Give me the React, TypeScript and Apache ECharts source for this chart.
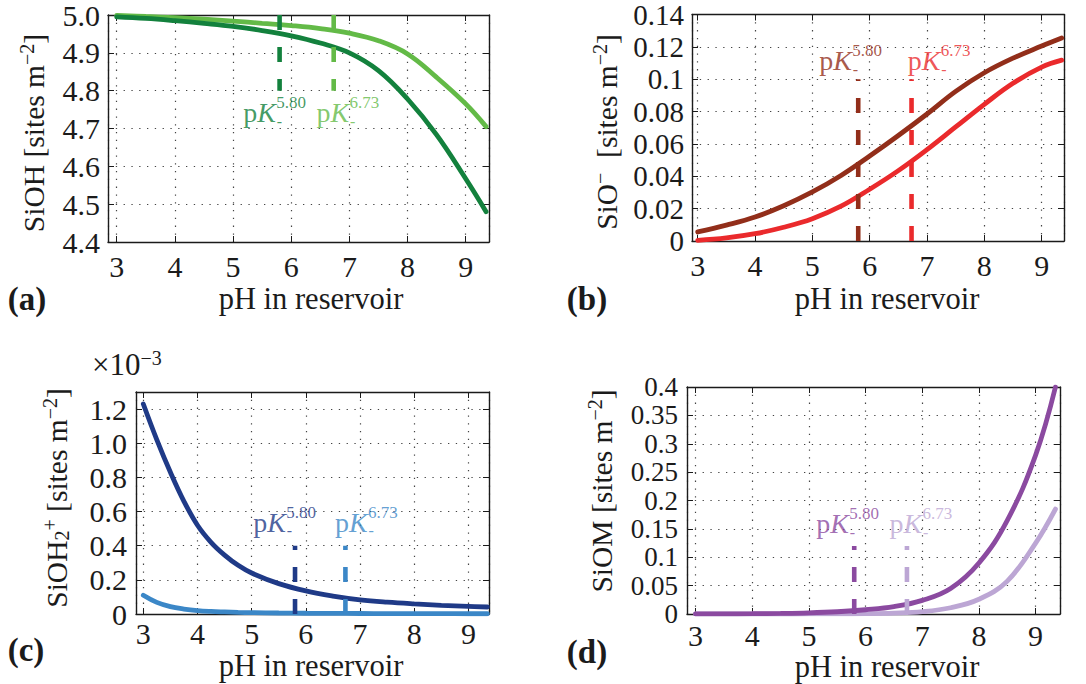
import React, { useEffect, useRef } from "react";
import * as echarts from "echarts";

// ---------- data ----------
// Two surface-complexation constants compared in every panel
const PK_LOW = 5.8;
const PK_HIGH = 6.73;
const PK_LOW_TXT = "5.80";
const PK_HIGH_TXT = "6.73";

// pH sampling shared by panels (a), (b) and (d)
const phGrid = [3, 3.5, 4, 4.5, 5, 5.5, 6, 6.5, 7, 7.5, 8, 8.5, 9, 9.35];

// (a) SiOH
const siohLow = [4.995, 4.991, 4.985, 4.978, 4.97, 4.959, 4.945, 4.926, 4.9, 4.853, 4.778, 4.683, 4.567, 4.48];
const siohHigh = [4.999, 4.996, 4.993, 4.989, 4.984, 4.978, 4.972, 4.964, 4.952, 4.932, 4.897, 4.835, 4.765, 4.705];

// (b) SiO-
const sioLow = [0.0056, 0.0098, 0.0148, 0.0218, 0.0303, 0.0405, 0.0525, 0.0652, 0.0785, 0.0925, 0.104, 0.113, 0.1205, 0.1255];
const sioHigh = [0.0004, 0.0019, 0.0045, 0.0085, 0.0138, 0.0215, 0.032, 0.0435, 0.0565, 0.0705, 0.0845, 0.0975, 0.1075, 0.1118];

// (c) SiOH2+ (in units of 1e-3 sites m^-2), finer sampling where it drops fast
const phC = [3, 3.25, 3.5, 3.75, 4, 4.25, 4.5, 4.75, 5, 5.5, 6, 6.5, 7, 7.5, 8, 8.5, 9, 9.35];
const sioh2Low = [1.23, 1.02, 0.83, 0.66, 0.52, 0.42, 0.345, 0.285, 0.24, 0.178, 0.135, 0.105, 0.083, 0.069, 0.059, 0.051, 0.045, 0.041];
const sioh2High = [0.11, 0.068, 0.043, 0.029, 0.02, 0.015, 0.012, 0.0095, 0.008, 0.006, 0.0045, 0.0035, 0.0028, 0.0024, 0.002, 0.0018, 0.0016, 0.0015];

// (d) SiOM
const siomLow = [0.0001, 0.0002, 0.0005, 0.001, 0.002, 0.004, 0.0075, 0.013, 0.024, 0.045, 0.09, 0.165, 0.28, 0.4];
const siomHigh = [0, 0, 0, 0, 0.0001, 0.0003, 0.0006, 0.0015, 0.004, 0.011, 0.026, 0.058, 0.125, 0.185];

// vertical marker extents [from, to] and label baselines [pH, value] per panel
const markA = [5.0, 4.8];
const markB = [0, 0.1];
const markC = [0, 0.4];
const markD = [0, 0.12];
const labelA = [[5.176, 4.716], [6.435, 4.716]];
const labelB = [[5.122, 0.1056], [6.663, 0.1056]];
const labelC = [[5.031, 0.481], [6.538, 0.481]];
const labelD = [[5.129, 0.142], [6.424, 0.142]];

// ---------- styling ----------
const FONT = "Liberation Serif";
const INK = "#1b1b1b";
const GRID_DOT = [1.3, 6.5];
const DASH = [15, 17];

type PanelSpec = {
  box: { left: number; top: number; width: number; height: number };
  xRange: [number, number];
  yRange: [number, number];
  yStep: number;
  yFmt: (v: number) => string;
  yFont: number;
  ph: number[];
  low: number[];
  high: number[];
  colors: [string, string];
  mark: number[];
  labels: number[][];
  yLabelMargin: number;
  xLabelMargin: number;
};

const panels: PanelSpec[] = [
  {
    box: { left: 108, top: 14, width: 381, height: 228 },
    xRange: [2.85, 9.4],
    yRange: [4.4, 5.0],
    yStep: 0.1,
    yFmt: (v) => v.toFixed(1),
    yFont: 30,
    ph: phGrid, low: siohLow, high: siohHigh,
    colors: ["#13813d", "#63ba47"],
    mark: markA, labels: labelA,
    yLabelMargin: 8, xLabelMargin: 12,
  },
  {
    box: { left: 692, top: 14, width: 372, height: 227 },
    xRange: [2.9, 9.39],
    yRange: [0, 0.14],
    yStep: 0.02,
    yFmt: (v) => (Math.abs(v) < 1e-9 ? "0" : String(+v.toFixed(2))),
    yFont: 29,
    ph: phGrid, low: sioLow, high: sioHigh,
    colors: ["#922e1a", "#ea2a2c"],
    mark: markB, labels: labelB,
    yLabelMargin: 8, xLabelMargin: 12,
  },
  {
    box: { left: 136, top: 392, width: 353, height: 222 },
    xRange: [2.865, 9.38],
    yRange: [0, 1.3],
    yStep: 0.2,
    yFmt: (v) => (Math.abs(v - 1.3) < 1e-6 ? "" : Math.abs(v) < 1e-9 ? "0" : v.toFixed(1)),
    yFont: 30,
    ph: phC, low: sioh2Low, high: sioh2High,
    colors: ["#1f3a87", "#3b87c7"],
    mark: markC, labels: labelC,
    yLabelMargin: 9, xLabelMargin: 7,
  },
  {
    box: { left: 687, top: 387, width: 373, height: 227 },
    xRange: [2.85, 9.43],
    yRange: [0, 0.4],
    yStep: 0.05,
    yFmt: (v) => (Math.abs(v) < 1e-9 ? "0" : String(+v.toFixed(2))),
    yFont: 27,
    ph: phGrid, low: siomLow, high: siomHigh,
    colors: ["#8b4aa0", "#bca6d4"],
    mark: markD, labels: labelD,
    yLabelMargin: 9, xLabelMargin: 9,
  },
];

const xFmt = (v: number) => (Math.abs(v - Math.round(v)) < 1e-6 ? String(Math.round(v)) : "");

function buildOption(): echarts.EChartsOption {
  const grid: any[] = [];
  const xAxis: any[] = [];
  const yAxis: any[] = [];
  const series: any[] = [];

  panels.forEach((p, i) => {
    grid.push({ ...p.box, containLabel: false });
    const axisLine = { show: true, onZero: false, lineStyle: { color: INK, width: 1.4 } };
    const axisTick = { show: true, inside: true, length: 6, lineStyle: { color: INK, width: 1 } };
    const label = { fontFamily: FONT, color: INK, lineHeight: 24, hideOverlap: false };

    xAxis.push({
      type: "value", gridIndex: i, position: "bottom",
      min: p.xRange[0], max: p.xRange[1], minInterval: 1, maxInterval: 1,
      axisLine, axisTick,
      axisLabel: { ...label, fontSize: 30, margin: p.xLabelMargin, formatter: xFmt },
      splitLine: { show: true, lineStyle: { type: GRID_DOT, color: "#444", width: 1.2 } },
    });
    xAxis.push({
      type: "value", gridIndex: i, position: "top",
      min: p.xRange[0], max: p.xRange[1], minInterval: 1, maxInterval: 1,
      axisLine, axisTick, axisLabel: { show: false }, splitLine: { show: false },
    });
    yAxis.push({
      type: "value", gridIndex: i, position: "left",
      min: p.yRange[0], max: p.yRange[1], interval: p.yStep,
      axisLine, axisTick,
      axisLabel: {
        ...label, fontSize: p.yFont, margin: p.yLabelMargin, formatter: p.yFmt,
        showMinLabel: true, showMaxLabel: true,
      },
      splitLine: { show: true, lineStyle: { type: GRID_DOT, color: "#444", width: 1.2 } },
    });
    yAxis.push({
      type: "value", gridIndex: i, position: "right",
      min: p.yRange[0], max: p.yRange[1], interval: p.yStep,
      axisLine, axisTick, axisLabel: { show: false }, splitLine: { show: false },
    });

    const xi = 2 * i;
    const yi = 2 * i;
    // light curve (higher pK) first, dark curve on top
    [
      { ys: p.high, color: p.colors[1] },
      { ys: p.low, color: p.colors[0] },
    ].forEach((c) => {
      series.push({
        type: "line", xAxisIndex: xi, yAxisIndex: yi,
        data: p.ph.map((x, k) => [x, c.ys[k]]),
        symbol: "none", smooth: 0.4,
        lineStyle: { color: c.color, width: 4.8, cap: "round" },
        z: 3, silent: true,
      });
    });

    [PK_LOW, PK_HIGH].forEach((pk, k) => {
      const color = p.colors[k];
      series.push({
        type: "line", xAxisIndex: xi, yAxisIndex: yi,
        data: [[pk, p.mark[0]], [pk, p.mark[1]]],
        symbol: "none",
        lineStyle: { color, width: 4.6, type: DASH, cap: "butt" },
        z: 4, silent: true,
      });
      const sup = k === 0 ? PK_LOW_TXT : PK_HIGH_TXT;
      const at = p.labels[k];
      const base = { show: true, position: "right", distance: 0, align: "left", color, fontFamily: FONT };
      // "pK" on the baseline, the constant as superscript, a minus as subscript
      series.push({
        type: "scatter", xAxisIndex: xi, yAxisIndex: yi,
        symbolSize: 0, silent: true, z: 5,
        data: [
          {
            value: at,
            label: {
              ...base, offset: [0, -9.5], formatter: "{p|p}{k|K}",
              rich: {
                p: { fontFamily: FONT, fontSize: 28, lineHeight: 28, color },
                k: { fontFamily: FONT, fontSize: 28, lineHeight: 28, fontStyle: "italic", color },
              },
            },
          },
          {
            value: at,
            label: { ...base, offset: [33, -19.8], formatter: sup, fontSize: 17, lineHeight: 17 },
          },
          {
            value: at,
            label: { ...base, offset: [33.5, -0.9], formatter: "-", fontSize: 16, lineHeight: 6 },
          },
        ],
      });
    });
  });

  const titleRich = (size = 29.5) => ({
    t: { fontFamily: FONT, fontSize: size, lineHeight: 32, verticalAlign: "bottom", fill: INK },
    s: { fontFamily: FONT, fontSize: 20, lineHeight: 20, verticalAlign: "top", fill: INK },
    b: { fontFamily: FONT, fontSize: 20, lineHeight: 20, verticalAlign: "bottom", fill: INK },
  });

  const yTitle = (x: number, y: number, text: string) => ({
    type: "text", x, y, rotation: Math.PI / 2, silent: true,
    style: { text, rich: titleRich(), align: "center", verticalAlign: "middle", fill: INK },
  });
  const plain = (x: number, y: number, text: string, size: number, weight = "normal") => ({
    type: "text", x, y, silent: true,
    style: {
      text, fontFamily: FONT, fontSize: size, fontWeight: weight, fill: INK,
      align: "center", verticalAlign: "middle",
    },
  });

  const graphic: any[] = [
    yTitle(33, 133, "{t|SiOH [sites m}{s|−2}{t|]}"),
    yTitle(606, 132, "{t|SiO}{s|−}{t|  [sites m}{s|−2}{t|]}"),
    yTitle(56, 498, "{t|SiOH}{b|2}{s|+}{t| [sites m}{s|−2}{t|]}"),
    yTitle(601, 491, "{t|SiOM [sites m}{s|−2}{t|]}"),
    plain(311, 299, "pH in reservoir", 30.5),
    plain(887, 299, "pH in reservoir", 30.5),
    plain(311, 666, "pH in reservoir", 30.5),
    plain(887, 667, "pH in reservoir", 30.5),
    plain(27, 299, "(a)", 33, "bold"),
    plain(587, 299, "(b)", 33, "bold"),
    plain(26, 650, "(c)", 33, "bold"),
    plain(587, 652, "(d)", 33, "bold"),
    {
      type: "text", x: 92, y: 364, silent: true,
      style: { text: "{t|×10}{s|−3}", rich: titleRich(31), align: "left", verticalAlign: "middle", fill: INK },
    },
  ];

  return {
    animation: false,
    backgroundColor: "#ffffff",
    grid, xAxis, yAxis, series, graphic,
  } as any;
}

export default function App() {
  const ref = useRef<HTMLDivElement>(null);
  useEffect(() => {
    const chart = echarts.init(ref.current!, null, { renderer: "svg" });
    chart.setOption(buildOption());
    return () => chart.dispose();
  }, []);
  return (
    <div
      ref={ref}
      style={{ position: "absolute", left: 0, top: 0, width: 1086, height: 684, background: "#fff" }}
    />
  );
}
